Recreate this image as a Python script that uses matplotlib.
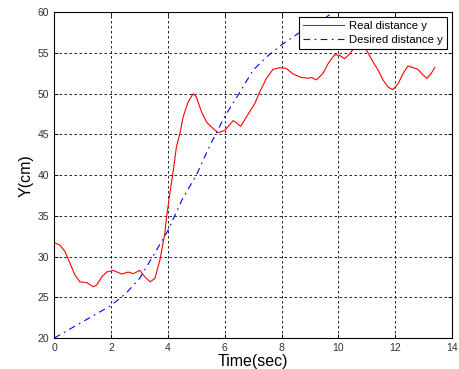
"""
Real vs desired distance y over time
"""

import matplotlib
matplotlib.use("Agg")
import matplotlib.pyplot as plt

plt.rcParams["font.family"] = ["Liberation Sans", "DejaVu Sans"]

# Real distance y
t_real = [0.0, 0.2, 0.38, 0.55, 0.73, 0.9, 1.14, 1.37, 1.49, 1.67, 1.84, 2.08,
          2.37, 2.6, 2.78, 3.01, 3.19, 3.37, 3.54, 3.72, 3.89, 3.95, 4.07, 4.19,
          4.3, 4.42, 4.54, 4.71, 4.89, 5.0, 5.18, 5.36, 5.6, 5.77, 6.0, 6.3,
          6.56, 6.88, 7.06, 7.23, 7.47, 7.7, 7.94, 8.17, 8.41, 8.7, 8.94, 9.05,
          9.23, 9.46, 9.64, 9.87, 10.05, 10.22, 10.4, 10.55, 10.8, 11.0, 11.22,
          11.4, 11.57, 11.75, 11.92, 12.1, 12.28, 12.45, 12.63, 12.8, 12.98,
          13.12, 13.27, 13.39]
y_real = [31.7, 31.4, 30.6, 29.2, 27.7, 26.9, 26.8, 26.3, 26.5, 27.5, 28.1, 28.3,
          27.85, 28.1, 27.9, 28.3, 27.5, 26.9, 27.3, 29.6, 32.8, 34.8, 37.8, 40.6,
          43.5, 45.1, 47.2, 49.0, 50.0, 49.6, 47.8, 46.5, 45.7, 45.2, 45.5, 46.7,
          46.0, 47.8, 48.8, 50.2, 51.9, 53.0, 53.2, 53.1, 52.4, 52.0, 51.9, 52.0,
          51.7, 52.5, 53.7, 54.8, 54.7, 54.3, 54.9, 55.6, 56.0, 55.3, 53.9,
          52.9, 51.7, 50.8, 50.5, 51.2, 52.5, 53.4, 53.2, 53.0, 52.3,
          51.9, 52.5, 53.2]

# Desired distance y
t_des = [0.0, 1.0, 2.0, 2.5, 3.0, 3.5, 4.0, 4.5, 5.0, 5.5, 6.0, 6.5, 7.0, 7.5,
         8.0, 8.5, 9.0, 9.5, 9.8, 10.2]
y_des = [20.0, 22.0, 24.0, 25.4, 27.3, 30.2, 33.2, 37.0, 40.0, 43.8, 47.2, 50.0,
         52.9, 54.6, 56.0, 57.2, 58.3, 59.2, 60.0, 61.0]

x_ticks = list(range(0, 15, 2))
y_ticks = list(range(20, 61, 5))

fig = plt.figure(figsize=(4.59, 3.69), dpi=100)
ax = fig.add_axes([0.1183, 0.084, 0.8664, 0.8827])

ax.plot(t_real, y_real, color="#ff0000", lw=0.8, label="Real distance y")
ax.plot(t_des, y_des, color="#0000ff", lw=0.8, linestyle=(0, (6, 4, 1.5, 4)),
        label="Desired distance y")

ax.set_xlim(0, 14)
ax.set_ylim(20, 60)
ax.set_xticks(x_ticks)
ax.set_yticks(y_ticks)
ax.tick_params(direction="in", length=3, labelsize=7.5, colors="black",
               labelcolor="#333333", top=True, right=True, width=0.6)
for s in ax.spines.values():
    s.set_linewidth(0.8)
ax.grid(True, color="black", linestyle=(0, (3, 3)), lw=0.6)

ax.set_xlabel("Time(sec)", fontsize=11.5, labelpad=1)
ax.set_ylabel("Y(cm)", fontsize=11.5, labelpad=3)

leg = ax.legend(loc="upper right", fontsize=8.2, fancybox=False, framealpha=1,
                edgecolor="black", borderpad=0.35, handlelength=3.6,
                handletextpad=0.4, borderaxespad=0.45, labelspacing=0.35)
leg.get_frame().set_linewidth(0.8)

plt.savefig("out.png", dpi=100)
plt.close()
